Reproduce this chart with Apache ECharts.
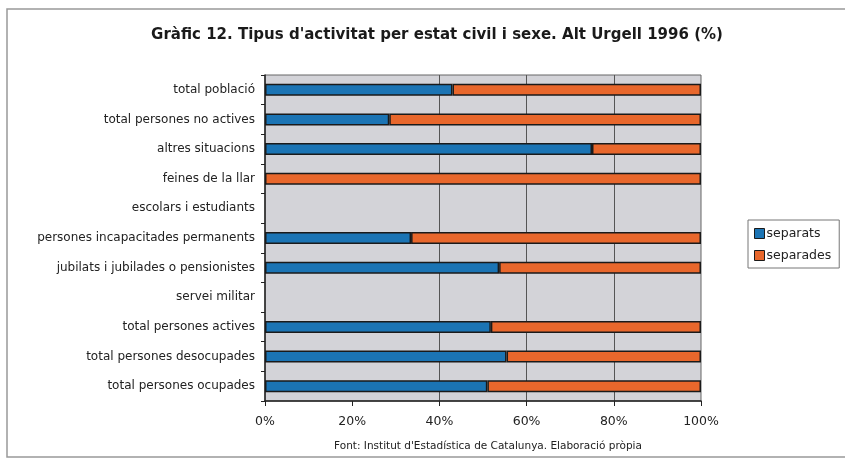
<!DOCTYPE html>
<html>
<head>
<meta charset="utf-8">
<script src="https://cdn.jsdelivr.net/npm/echarts@6/dist/echarts.min.js"></script>
<style>
  html, body { margin: 0; padding: 0; background: #fff; }
  #chart { width: 845px; height: 463px; }
</style>
</head>
<body>
<div id="chart"></div>
<script>
// categories, top to bottom as in the picture
var categories = [
  'total població',
  'total persones no actives',
  'altres situacions',
  'feines de la llar',
  'escolars i estudiants',
  'persones incapacitades permanents',
  'jubilats i jubilades o pensionistes',
  'servei militar',
  'total persones actives',
  'total persones desocupades',
  'total persones ocupades'
]
// % per categoria (null = sense dades)
var separats = [43, 28.5, 75, null, null, 33.5, 53.7, null, 51.8, 55.4, 51]
var separades = [57, 71.5, 25, 100, null, 66.5, 46.3, null, 48.2, 44.6, 49]
var xTicks = [0, 20, 40, 60, 80, 100]

var font = 'DejaVu Sans'
var chart = echarts.init(document.getElementById('chart'))

function barSeries (name, data, color) {
  return {
    name: name,
    type: 'bar',
    stack: 'total',
    barWidth: 12,
    data: data,
    itemStyle: {
      color: color,
      borderColor: '#1a1a1a',
      borderWidth: 1.5
    }
  }
}

chart.setOption({
  backgroundColor: '#fff',
  animation: false,
  title: {
    text: 'Gràfic 12. Tipus d\'activitat per estat civil i sexe. Alt Urgell 1996 (%)',
    left: 432,
    top: 23,
    textAlign: 'center',
    textStyle: { fontFamily: font, fontWeight: 'bold', fontSize: 15, color: '#1a1a1a' }
  },
  legend: {
    orient: 'vertical',
    left: 748,
    top: 220,
    itemWidth: 10,
    itemHeight: 10,
    itemGap: 9,
    padding: [7, 8, 6, 6],
    borderColor: '#777',
    borderWidth: 1,
    icon: 'rect',
    itemStyle: { borderColor: '#1a1a1a', borderWidth: 1 },
    textStyle: { fontFamily: font, fontSize: 12.5, color: '#222', padding: [0, 0, 0, -3] },
    data: ['separats', 'separades']
  },
  grid: {
    left: 265,
    right: 144,
    top: 75,
    bottom: 62,
    show: true,
    backgroundColor: '#d3d3d8',
    borderColor: '#666',
    borderWidth: 1
  },
  xAxis: {
    type: 'value',
    min: 0,
    max: 100,
    interval: 20,
    axisLine: { show: true, lineStyle: { color: '#222', width: 1.5 } },
    axisTick: { show: true, length: 5, lineStyle: { color: '#222' } },
    axisLabel: {
      fontFamily: font, fontSize: 12.5, color: '#222', margin: 14,
      formatter: function (v) { return xTicks.indexOf(v) >= 0 ? v + '%' : '' }
    },
    splitLine: {
      show: true,
      lineStyle: { color: ['transparent', 'transparent', '#555', '#555', '#555', 'transparent'], width: 1 }
    }
  },
  yAxis: {
    type: 'category',
    inverse: true,
    data: categories,
    axisLine: { show: true, lineStyle: { color: '#222', width: 1.5 } },
    axisTick: { show: true, length: 4, lineStyle: { color: '#222' } },
    axisLabel: { fontFamily: font, fontSize: 12, color: '#222', margin: 10 }
  },
  series: [
    barSeries('separats', separats, '#1b74b4'),
    barSeries('separades', separades, '#e8672c')
  ],
  graphic: [
    {
      type: 'rect',
      shape: { x: 7, y: 9, width: 845, height: 448 },
      style: { fill: 'none', stroke: '#999', lineWidth: 1.5 },
      silent: true
    },
    {
      type: 'text',
      x: 488,
      y: 446,
      style: {
        text: 'Font: Institut d\'Estadística de Catalunya. Elaboració pròpia',
        font: '10.5px ' + font,
        fill: '#222',
        align: 'center',
        verticalAlign: 'middle'
      },
      silent: true
    }
  ]
})
</script>
</body>
</html>
